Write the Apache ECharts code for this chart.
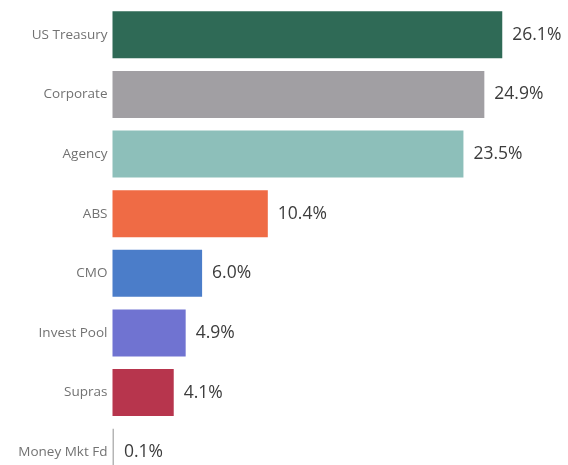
<!DOCTYPE html>
<html>
<head>
<meta charset="utf-8">
<script src="https://cdn.jsdelivr.net/npm/echarts@6/dist/echarts.min.js"></script>
<style>
  html, body { margin: 0; padding: 0; background: #ffffff; }
  #chart { width: 568px; height: 465px; }
</style>
</head>
<body>
<div id="chart"></div>
<script>
// Portfolio allocation by sector (% of holdings)
const categories = ['US Treasury', 'Corporate', 'Agency', 'ABS', 'CMO', 'Invest Pool', 'Supras', 'Money Mkt Fd'];
const values = [26.1, 24.9, 23.5, 10.4, 6.0, 4.9, 4.1, 0.1];
const colors = ['#2f6a56', '#a19fa3', '#8dbfba', '#ef6b45', '#4b7dc9', '#7073d1', '#b7354d', '#b5b5b5'];

const chart = echarts.init(document.getElementById('chart'), null, { renderer: 'canvas' });

chart.setOption({
  animation: false,
  grid: { left: 112.5, top: 5, right: 7.5, bottom: -17, containLabel: false, outerBoundsMode: 'none' },
  xAxis: {
    type: 'value', min: 0, max: 30,
    show: false
  },
  yAxis: {
    type: 'category',
    data: categories,
    inverse: true,
    axisLine: { show: false },
    axisTick: { show: false },
    axisLabel: {
      margin: 5,
      color: '#727272',
      fontFamily: 'Open Sans',
      fontSize: 13.5
    }
  },
  series: [{
    type: 'bar',
    barCategoryGap: '21%',
    data: values.map((v, i) => ({ value: v, itemStyle: { color: colors[i] } })),
    label: {
      show: true,
      position: 'right',
      distance: 10,
      color: '#3c3c3c',
      fontFamily: 'Open Sans',
      fontSize: 17.5,
      formatter: p => p.value.toFixed(1) + '%'
    }
  }]
});
</script>
</body>
</html>
